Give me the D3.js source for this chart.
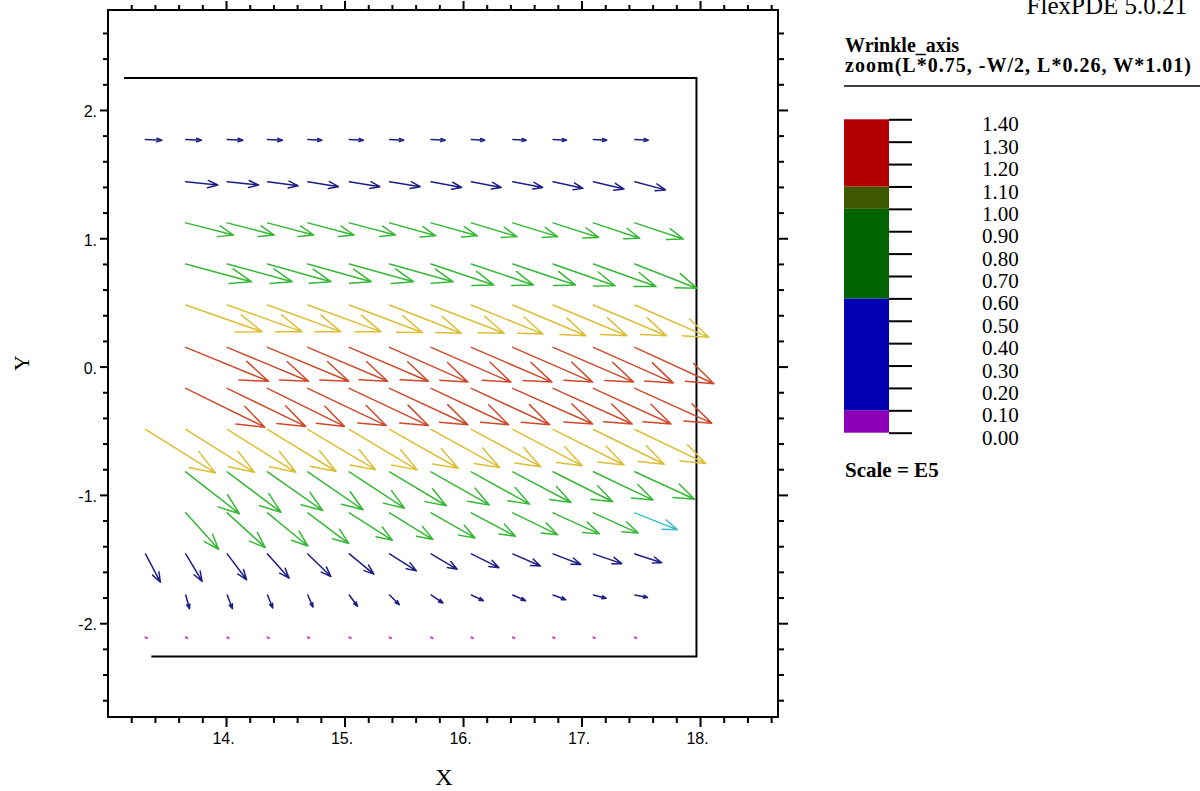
<!DOCTYPE html>
<html>
<head>
<meta charset="utf-8">
<title>Wrinkle_axis</title>
<style>
body { margin: 0; background: #fff; }
svg { display: block; }
</style>
</head>
<body>
<div id="container"></div>
<script src="https://cdn.jsdelivr.net/npm/d3@7"></script>
<script>
// grid of arrow tails (plot units)
const colX = [13.32, 13.66, 14.01, 14.35, 14.69, 15.04, 15.38, 15.73, 16.07, 16.42, 16.76, 17.10, 17.45];
const rowY = [1.77, 1.44, 1.12, 0.80, 0.48, 0.15, -0.17, -0.49, -0.82, -1.14, -1.46, -1.78, -2.11];

// vector components per row (E5 units), null = no arrow drawn
const uRows = [
  [0.22, 0.21, 0.21, 0.20, 0.19, 0.19, 0.19, 0.19, 0.18, 0.18, 0.18, 0.18, 0.18],
  [null, 0.43, 0.42, 0.41, 0.41, 0.41, 0.41, 0.41, 0.40, 0.40, 0.40, 0.41, 0.41],
  [null, 0.64, 0.63, 0.62, 0.62, 0.62, 0.62, 0.62, 0.61, 0.60, 0.61, 0.62, 0.65],
  [null, 0.88, 0.87, 0.85, 0.85, 0.86, 0.85, 0.84, 0.83, 0.84, 0.83, 0.84, 0.83],
  [null, 1.02, 1.00, 0.98, 0.98, 0.98, 0.96, 0.98, 0.96, 0.98, 0.99, 0.98, 0.99],
  [null, 1.11, 1.09, 1.09, 1.07, 1.06, 1.05, 1.07, 1.08, 1.07, 1.08, 1.07, 1.06],
  [null, 1.06, 1.05, 1.03, 1.05, 1.06, 1.05, 1.04, 1.05, 1.07, 1.06, 1.04, 1.03],
  [0.94, 0.92, 0.92, 0.92, 0.91, 0.91, 0.92, 0.92, 0.93, 0.93, 0.95, 0.95, 0.95],
  [null, 0.72, 0.72, 0.74, 0.74, 0.74, 0.76, 0.78, 0.78, 0.78, 0.80, 0.80, 0.80],
  [null, 0.44, 0.51, 0.54, 0.55, 0.58, 0.58, 0.59, 0.59, 0.60, 0.62, 0.60, 0.57],
  [0.20, 0.22, 0.26, 0.29, 0.31, 0.33, 0.36, 0.35, 0.37, 0.37, 0.37, 0.38, 0.36],
  [null, 0.05, 0.07, 0.07, 0.07, 0.11, 0.13, 0.16, 0.16, 0.17, 0.17, 0.17, 0.17],
  [0.02, 0.02, 0.02, 0.02, 0.02, 0.02, 0.02, 0.02, 0.02, 0.02, 0.02, 0.02, 0.02]
];
const vRows = [
  [-0.01, -0.01, -0.01, -0.01, -0.01, -0.01, -0.01, -0.01, -0.01, -0.01, -0.01, -0.01, -0.01],
  [null, -0.04, -0.04, -0.05, -0.06, -0.06, -0.06, -0.07, -0.07, -0.07, -0.08, -0.09, -0.10],
  [null, -0.15, -0.15, -0.15, -0.15, -0.15, -0.16, -0.16, -0.17, -0.17, -0.18, -0.19, -0.20],
  [null, -0.22, -0.22, -0.22, -0.22, -0.22, -0.22, -0.26, -0.26, -0.26, -0.27, -0.28, -0.30],
  [null, -0.33, -0.33, -0.33, -0.33, -0.34, -0.35, -0.35, -0.36, -0.38, -0.38, -0.38, -0.40],
  [null, -0.42, -0.42, -0.42, -0.42, -0.42, -0.43, -0.43, -0.43, -0.43, -0.43, -0.44, -0.45],
  [null, -0.48, -0.47, -0.47, -0.46, -0.46, -0.45, -0.45, -0.45, -0.44, -0.44, -0.44, -0.43],
  [-0.54, -0.53, -0.53, -0.52, -0.50, -0.50, -0.48, -0.47, -0.46, -0.45, -0.44, -0.43, -0.42],
  [null, -0.52, -0.50, -0.48, -0.47, -0.45, -0.42, -0.41, -0.40, -0.38, -0.37, -0.35, -0.34],
  [null, -0.45, -0.43, -0.41, -0.38, -0.34, -0.33, -0.31, -0.29, -0.27, -0.26, -0.25, -0.21],
  [-0.35, -0.34, -0.32, -0.30, -0.28, -0.25, -0.21, -0.19, -0.17, -0.15, -0.13, -0.12, -0.11],
  [null, -0.17, -0.17, -0.16, -0.15, -0.14, -0.12, -0.10, -0.07, -0.07, -0.06, -0.04, -0.03],
  [-0.01, -0.01, -0.01, -0.01, -0.01, -0.01, -0.01, -0.01, -0.01, -0.01, -0.01, -0.01, -0.01]
];

// domain boundary (plot units)
const boundaryX = [13.14, 17.97, 17.97, 13.37];
const boundaryY = [2.25, 2.25, -2.26, -2.26];

// axes
const xMajor = [14, 15, 16, 17, 18];
const yMajor = [-2, -1, 0, 1, 2];

// legend
const legendLevels = [0, 0.1, 0.2, 0.3, 0.4, 0.5, 0.6, 0.7, 0.8, 0.9, 1.0, 1.1, 1.2, 1.3, 1.4];
const legendBreaks = [0, 0.1, 0.6, 1.0, 1.1, 1.4];

const width = 1200, height = 791;
const plotLeft = 108, plotRight = 778, plotTop = 10, plotBottom = 717;
const vecScale = 0.63;   // plot units per E5 unit

const x = d3.scaleLinear().domain([13.004, 18.658]).range([plotLeft, plotRight]);
const y = d3.scaleLinear().domain([-2.731, 2.779]).range([plotBottom, plotTop]);

// arrow colour by magnitude
const arrowColor = d3.scaleThreshold()
  .domain([0.05, 0.58, 0.615, 1.0, 1.1])
  .range(["#c845c8", "#1e1e84", "#3cbcc8", "#36b836", "#dcbe36", "#cf4a2c"]);

const bandColor = d3.scaleThreshold()
  .domain([0.1, 0.6, 1.0, 1.1])
  .range(["#8e00b8", "#0000b2", "#006400", "#3e5800", "#b40000"]);

const svg = d3.create("svg")
  .attr("width", width)
  .attr("height", height)
  .style("background", "#fff");

// ticks on all four sides, pointing out
const minorX = d3.range(13.2, 18.61, 0.2).filter(v => Math.abs(v - Math.round(v)) > 0.01);
const minorY = d3.range(-2.6, 2.61, 0.2).filter(v => Math.abs(v - Math.round(v)) > 0.01);

function tickAxis(axisFn, scale, values, size, pos) {
  const g = svg.append("g").attr("transform", pos)
    .call(axisFn(scale).tickValues(values).tickSize(size).tickSizeOuter(0).tickFormat(""));
  g.select(".domain").remove();
  g.selectAll("line").attr("stroke", "#000").attr("stroke-width", 2);
  return g;
}
tickAxis(d3.axisBottom, x, minorX, 6, `translate(0,${plotBottom})`);
tickAxis(d3.axisTop, x, minorX, 5, `translate(0,${plotTop})`);
tickAxis(d3.axisTop, x, xMajor, 9, `translate(0,${plotTop})`);
tickAxis(d3.axisLeft, y, minorY, 5, `translate(${plotLeft},0)`);
tickAxis(d3.axisRight, y, minorY, 6, `translate(${plotRight},0)`);
tickAxis(d3.axisRight, y, yMajor, 10, `translate(${plotRight},0)`);

const tickFont = "16px 'Liberation Sans', Arial, sans-serif";

const xAxis = svg.append("g")
  .attr("transform", `translate(0,${plotBottom})`)
  .call(d3.axisBottom(x).tickValues(xMajor).tickSize(10).tickSizeOuter(0).tickPadding(6)
    .tickFormat(d => d + "."));
xAxis.select(".domain").remove();
xAxis.selectAll("line").attr("stroke", "#000").attr("stroke-width", 2);
xAxis.selectAll("text")
  .attr("fill", "#000")
  .attr("dx", -3)
  .style("font", tickFont);

const yAxis = svg.append("g")
  .attr("transform", `translate(${plotLeft},0)`)
  .call(d3.axisLeft(y).tickValues(yMajor).tickSize(8).tickSizeOuter(0).tickPadding(3)
    .tickFormat(d => d + "."));
yAxis.select(".domain").remove();
yAxis.selectAll("line").attr("stroke", "#000").attr("stroke-width", 2);
yAxis.selectAll("text")
  .attr("fill", "#000")
  .attr("dy", "0.42em")
  .style("font", tickFont);

// frame
svg.append("rect")
  .attr("x", plotLeft).attr("y", plotTop)
  .attr("width", plotRight - plotLeft).attr("height", plotBottom - plotTop)
  .attr("fill", "none").attr("stroke", "#000").attr("stroke-width", 2);

// boundary of the domain
svg.append("path")
  .attr("d", d3.line().x(d => x(d[0])).y(d => y(d[1]))(boundaryX.map((v, i) => [v, boundaryY[i]])))
  .attr("fill", "none").attr("stroke", "#000").attr("stroke-width", 2);

// arrows
const arrows = [];
rowY.forEach((ry, r) => {
  colX.forEach((cx, c) => {
    const u = uRows[r][c], v = vRows[r][c];
    if (u == null) return;
    arrows.push({cx, ry, u, v, mag: Math.hypot(u, v)});
  });
});

function arrowPath(d) {
  const x0 = x(d.cx), y0 = y(d.ry);
  const x1 = x(d.cx + d.u * vecScale), y1 = y(d.ry + d.v * vecScale);
  const len = Math.hypot(x1 - x0, y1 - y0);
  const back = Math.atan2(y0 - y1, x0 - x1);
  const bl = len * 0.33, a = 20 * Math.PI / 180;
  const b1 = [x1 + bl * Math.cos(back + a), y1 + bl * Math.sin(back + a)];
  const b2 = [x1 + bl * Math.cos(back - a), y1 + bl * Math.sin(back - a)];
  return `M${x0},${y0}L${x1},${y1}M${b1[0]},${b1[1]}L${x1},${y1}L${b2[0]},${b2[1]}`;
}

svg.append("g")
  .selectAll("path")
  .data(arrows)
  .join("path")
  .attr("d", arrowPath)
  .attr("fill", "none")
  .attr("stroke", d => arrowColor(d.mag))
  .attr("stroke-width", d => d.mag < 0.05 ? 2 : 1.5)
  .attr("stroke-linecap", "round")
  .attr("stroke-linejoin", "round");

// axis titles
svg.append("text")
  .attr("x", 444).attr("y", 785)
  .attr("text-anchor", "middle")
  .style("font", "24px 'Liberation Serif', 'Times New Roman', serif")
  .text("X");

svg.append("text")
  .attr("transform", "translate(29,363) rotate(-90)")
  .attr("text-anchor", "middle")
  .style("font", "22px 'Liberation Serif', 'Times New Roman', serif")
  .text("Y");

// header and legend
svg.append("text")
  .attr("x", 1187).attr("y", 14)
  .attr("text-anchor", "end")
  .style("font", "25px 'Liberation Serif', 'Times New Roman', serif")
  .text("FlexPDE 5.0.21");

const serifBold = "bold 20px 'Liberation Serif', 'Times New Roman', serif";
svg.append("text").attr("x", 845).attr("y", 52).style("font", serifBold).text("Wrinkle_axis");
svg.append("text").attr("x", 845).attr("y", 72).style("font", serifBold)
  .attr("textLength", 346).attr("lengthAdjust", "spacing")
  .text("zoom(L*0.75, -W/2, L*0.26, W*1.01)");
svg.append("line")
  .attr("x1", 844).attr("x2", 1200).attr("y1", 86).attr("y2", 86)
  .attr("stroke", "#000").attr("stroke-width", 1.5);

const ly = d3.scaleLinear().domain([0, 1.4]).range([432.7, 119.3]);
const bands = d3.pairs(legendBreaks);
svg.append("g")
  .selectAll("rect")
  .data(bands)
  .join("rect")
  .attr("x", 844).attr("width", 45)
  .attr("y", d => ly(d[1]))
  .attr("height", d => ly(d[0]) - ly(d[1]))
  .attr("fill", d => bandColor((d[0] + d[1]) / 2));

const legendAxis = svg.append("g")
  .attr("transform", "translate(889,0)")
  .call(d3.axisRight(ly).tickValues(legendLevels).tickSize(23).tickSizeOuter(0)
    .tickPadding(70).tickFormat(d3.format(".2f")));
legendAxis.select(".domain").remove();
legendAxis.selectAll("line").attr("stroke", "#000").attr("stroke-width", 2);
legendAxis.selectAll("text")
  .attr("fill", "#000")
  .attr("dy", "0.55em")
  .style("font", "21px 'Liberation Serif', 'Times New Roman', serif");

svg.append("text").attr("x", 845).attr("y", 477)
  .style("font", "bold 21px 'Liberation Serif', 'Times New Roman', serif")
  .text("Scale = E5");

container.append(svg.node());
</script>
</body>
</html>
